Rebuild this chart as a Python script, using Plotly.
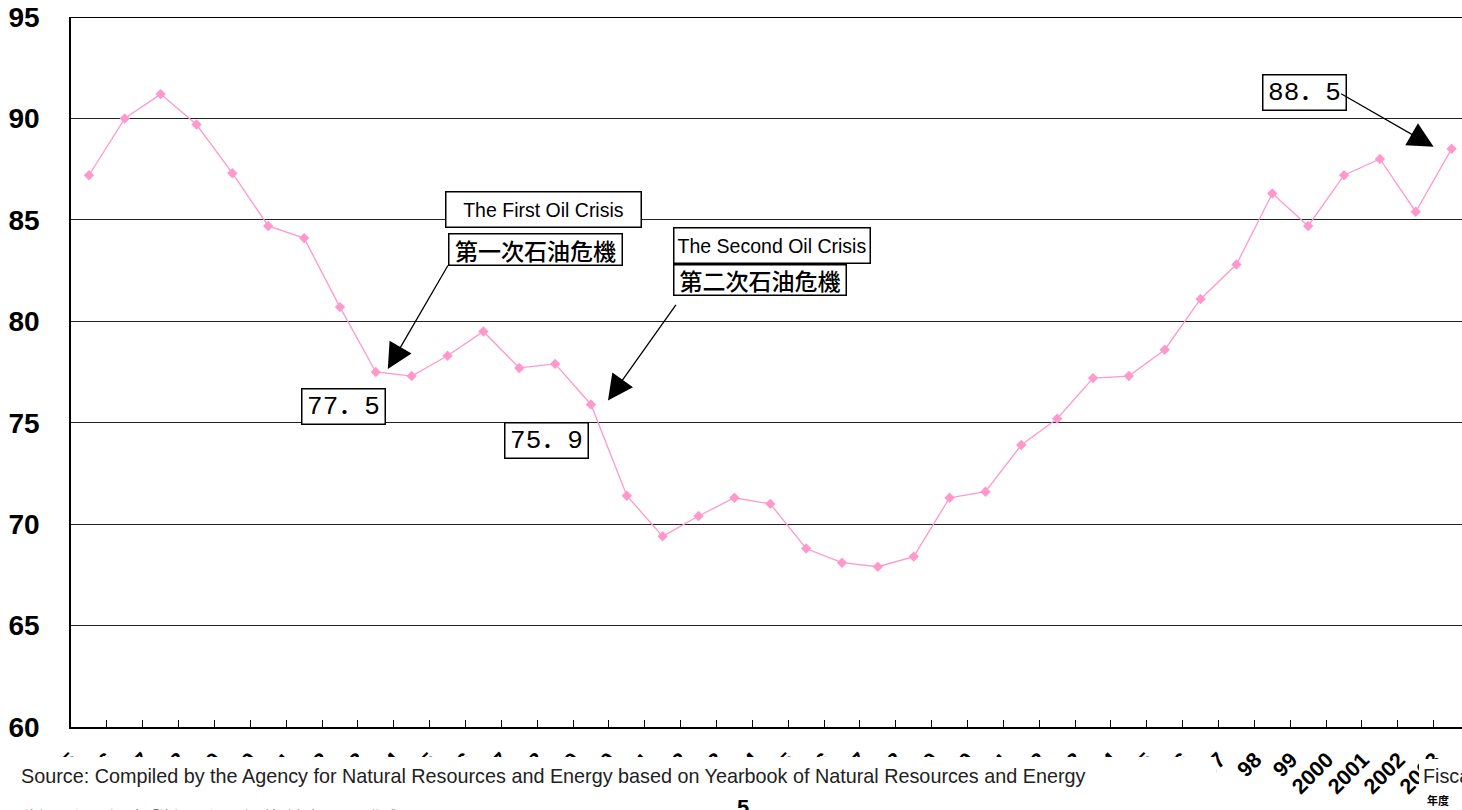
import plotly.graph_objects as go

# Fiscal years 1965-2003 and the dependency ratio (%) for each year
years = list(range(1965, 2004))
tick_labels = [str(y)[2:] if y < 2000 else str(y) for y in years]
values = [87.2, 90.0, 91.2, 89.7, 87.3, 84.7, 84.1, 80.7, 77.5, 77.3,
          78.3, 79.5, 77.7, 77.9, 75.9, 71.4, 69.4, 70.4, 71.3, 71.0,
          68.8, 68.1, 67.9, 68.4, 71.3, 71.6, 73.9, 75.2, 77.2, 77.3,
          78.6, 81.1, 82.8, 86.3, 84.7, 87.2, 88.0, 85.4, 88.5]
y_ticks = [60, 65, 70, 75, 80, 85, 90, 95]

first_crisis, second_crisis, latest = 1973, 1979, 2003

W, H = 1462, 810
L, R, T, B = 71, 0, 17, 83
PW, PH = W - L - R, H - T - B


def px(x):
    return (x - L) / PW


def py(y):
    return (H - B - y) / PH


SANS = "Liberation Sans, Arial, sans-serif"
MONO = "Liberation Mono, Noto Sans CJK JP, monospace"
CJK = "Noto Sans CJK JP, sans-serif"

fig = go.Figure()
fig.add_trace(go.Scatter(
    x=tick_labels, y=values, mode="lines+markers",
    line=dict(color="#FF99CC", width=1.3),
    marker=dict(symbol="diamond", size=8, color="#FF99CC"),
    showlegend=False, hoverinfo="x+y",
))


def idx(year):
    return years.index(year)


def fmt(v):
    return f"{v:.1f}".replace(".", "．")


annotations = []

# value call-outs attached to their points
for year, dx, dy in [(first_crisis, -32, -34), (second_crisis, -44, -36), (latest, -147, 56)]:
    i = idx(year)
    annotations.append(dict(
        x=i, y=values[i], xref="x", yref="y", xshift=dx, yshift=dy,
        text=fmt(values[i]), showarrow=False,
        font=dict(family=MONO, size=26, color="black"),
        bgcolor="white", bordercolor="black", borderwidth=1.5, borderpad=1,
        width=80, height=32,
    ))

# arrows pointing at the marked years
for year, dx, dy, ax, ay in [(first_crisis, 12, 3, 61, -105),
                             (second_crisis, 17, 4, 69, -97),
                             (latest, -18, 2, -94, -54)]:
    i = idx(year)
    annotations.append(dict(
        x=i, y=values[i], xref="x", yref="y", xshift=dx, yshift=dy,
        text="", showarrow=True, ax=ax, ay=ay,
        arrowhead=2, arrowsize=3.9, arrowwidth=1.3, arrowcolor="black",
        standoff=0, startstandoff=0,
    ))

# crisis labels (English and Japanese)
for text, cx, cy, w, h, fam, size, weight in [
    ("The First Oil Crisis", 543, 210, 192, 32, SANS, 19.5, 400),
    ("第一次石油危機", 535, 249, 170, 28, CJK, 23, 500),
    ("The Second Oil Crisis", 771.5, 245, 193, 32, SANS, 19.5, 400),
    ("第二次石油危機", 759.5, 280.5, 169, 27, CJK, 23, 500),
]:
    annotations.append(dict(
        x=px(cx), y=py(cy), xref="paper", yref="paper",
        xanchor="center", yanchor="middle",
        text=text, showarrow=False,
        font=dict(family=fam, size=size, color="black", weight=weight),
        bgcolor="white", bordercolor="black", borderwidth=1.5, borderpad=1,
        width=w, height=h,
    ))

# footer texts
annotations += [
    dict(x=px(19), y=py(776), xref="paper", yref="paper", xanchor="left", yanchor="middle",
         text="Source: Compiled by the Agency for Natural Resources and Energy based on Yearbook of Natural Resources and Energy",
         showarrow=False, font=dict(family=SANS, size=19.8, color="#222222")),
    dict(x=px(1421), y=py(776), xref="paper", yref="paper", xanchor="left", yanchor="middle",
         text="Fiscal year", showarrow=False, font=dict(family=SANS, size=19.8, color="#222222")),
    dict(x=px(1438), y=py(800), xref="paper", yref="paper", xanchor="center", yanchor="middle",
         text="年度", showarrow=False, font=dict(family=CJK, size=11, color="black", weight="bold")),
    dict(x=px(743), y=py(793), xref="paper", yref="paper", xanchor="center", yanchor="top",
         text="5", showarrow=False, font=dict(family=SANS, size=22, color="black", weight="bold")),
    dict(x=px(22), y=py(803), xref="paper", yref="paper", xanchor="left", yanchor="top",
         text="資源エネルギー庁「資源エネルギー統計年報」より作成", showarrow=False,
         font=dict(family=CJK, size=15, color="#777777")),
]

shapes = [
    # band under the footer text
    dict(type="rect", xref="paper", yref="paper", x0=px(0), x1=px(1216), y0=py(H), y1=py(757),
         fillcolor="white", line=dict(width=0), layer="above"),
    dict(type="rect", xref="paper", yref="paper", x0=px(1419), x1=px(W), y0=py(795), y1=py(759),
         fillcolor="white", line=dict(width=0), layer="above"),
    # top frame line
    dict(type="line", xref="paper", yref="y", x0=0, x1=1, y0=95, y1=95,
         line=dict(color="black", width=2), layer="above"),
]

fig.update_layout(
    width=W, height=H,
    margin=dict(l=L, r=R, t=T, b=B),
    paper_bgcolor="white", plot_bgcolor="white",
    annotations=annotations, shapes=shapes,
    xaxis=dict(
        type="category", range=[-0.5, (PW / 35.86) - 0.5],
        tickson="boundaries", ticks="inside", ticklen=7, tickwidth=1.3, tickcolor="black",
        tickangle=-45, tickfont=dict(family=SANS, size=21.5, color="black", weight="bold"),
        ticklabelstandoff=10, ticklabelshift=-17,
        showline=True, linecolor="black", linewidth=1.5, showgrid=False, zeroline=False,
    ),
    yaxis=dict(
        range=[60, 95], tickvals=y_ticks, ticks="",
        tickfont=dict(family=SANS, size=28, color="black", weight="bold"),
        ticklabelstandoff=24,
        showline=True, linecolor="black", linewidth=1.5,
        showgrid=True, gridcolor="#222222", gridwidth=1, zeroline=False,
    ),
)

fig.write_html("out.html")
